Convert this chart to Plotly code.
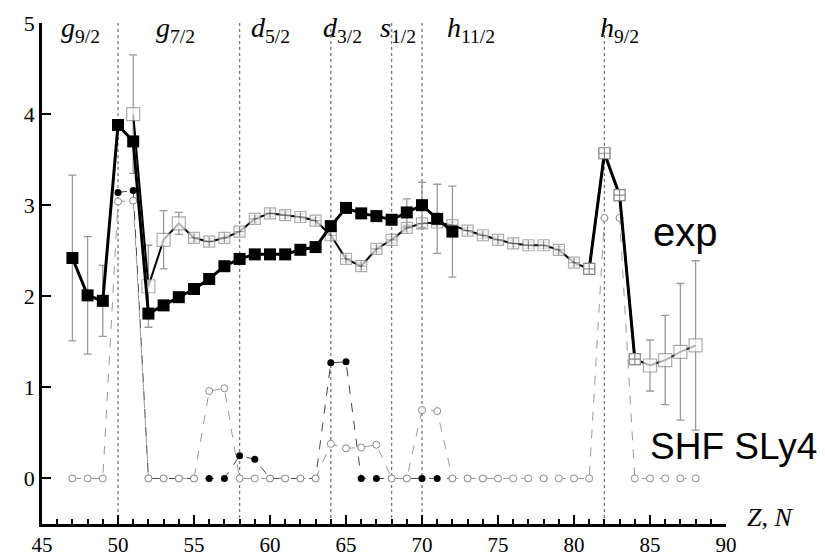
import plotly.graph_objects as go

# ---- experimental data: filled squares (Z = 47..72)
z_exp_a = list(range(47, 73))
exp_a = [2.42, 2.01, 1.95, 3.88, 3.70, 1.81, 1.90, 1.99, 2.08, 2.19, 2.33, 2.41, 2.46,
         2.46, 2.46, 2.51, 2.54, 2.77, 2.97, 2.91, 2.88, 2.84, 2.92, 3.00, 2.85, 2.71]
exp_a_err = [0.91, 0.645, 0.39, None, None, None, None, None, None, None, None, None, None,
             None, None, None, None, None, None, None, None, None, 0.15, 0.25, 0.38, 0.50]

# ---- experimental data: open squares (N = 51..88)
z_exp_b = list(range(51, 89))
exp_b = [4.00, 2.11, 2.62, 2.80, 2.64, 2.60, 2.64, 2.71, 2.85, 2.91, 2.89, 2.87, 2.83,
         2.67, 2.41, 2.33, 2.52, 2.62, 2.75, 2.80, 2.81, 2.78, 2.72, 2.67, 2.62, 2.58,
         2.56, 2.56, 2.51, 2.37, 2.30, 3.57, 3.11, 1.31, 1.24, 1.30, 1.39, 1.46]
exp_b_err = [0.65, 0.45, 0.32, 0.12] + [0.035] * 30 + [0.28, 0.49, 0.75, 0.93]

# ---- SHF SLy4: open circles (47..88) and filled circles (50..74)
z_shf_open = list(range(47, 89))
shf_open = [0, 0, 0, 3.04, 3.05, 0, 0, 0, 0, 0.96, 0.99, 0, 0, 0, 0, 0, 0, 0.38, 0.33,
            0.34, 0.37, 0, 0, 0.75, 0.74, 0, 0, 0, 0, 0, 0, 0, 0, 0, 0, 2.86, 2.86, 0,
            0, 0, 0, 0]
z_shf_fill = list(range(50, 75))
shf_fill = [3.14, 3.16, 0, 0, 0, 0, 0, 0, 0.25, 0.21, 0, 0, 0, 0, 1.27, 1.28, 0, 0, 0,
            0, 0, 0, 0, 0, 0]

# ---- shell closures and orbital labels
shell_lines = [50, 58, 64, 68, 70, 82]
orbital_pos = [47.5, 53.75, 60.0, 64.75, 68.4, 73.2, 83.0]
orbital_labels = ["g", "g", "d", "d", "s", "h", "h"]
orbital_j = ["9/2", "7/2", "5/2", "3/2", "1/2", "11/2", "9/2"]
peak_segment = [81, 82, 83, 84]

SERIF = "Liberation Serif, Times New Roman, serif"
SANS = "Liberation Sans, Arial, sans-serif"
GREY = "#8a8a8a"

fig = go.Figure()

# vertical dotted shell-closure lines
for xv in shell_lines:
    fig.add_shape(type="line", x0=xv, x1=xv, y0=-0.5, y1=5, xref="x", yref="y",
                  line=dict(color="#777777", width=1.3, dash="dot"), layer="below")

# SHF SLy4 curves
fig.add_trace(go.Scatter(
    x=z_shf_fill, y=shf_fill, mode="lines+markers",
    line=dict(color="#444444", width=1, dash="dash"),
    marker=dict(symbol="circle", size=7, color="black"),
    showlegend=False))
fig.add_trace(go.Scatter(
    x=z_shf_open, y=shf_open, mode="lines+markers",
    line=dict(color="#9a9a9a", width=1, dash="dash"),
    marker=dict(symbol="circle", size=7, color="white", line=dict(color="#8a8a8a", width=1)),
    showlegend=False))

# open-square experimental series
sym_b = ["square" if e is not None and e > 0.1 else "square-cross" for e in exp_b_err]
size_b = [13 if e is not None and e > 0.1 else 11 for e in exp_b_err]
fig.add_trace(go.Scatter(
    x=z_exp_b, y=exp_b, mode="lines+markers",
    line=dict(color="black", width=2),
    marker=dict(symbol=sym_b, size=size_b, color="white", line=dict(color=GREY, width=1.2)),
    error_y=dict(type="data", array=exp_b_err, color="#999999", thickness=1.3, width=4),
    showlegend=False))

# thick connecting line across the N = 82 peak
seg_y = [exp_b[z_exp_b.index(z)] for z in peak_segment]
fig.add_trace(go.Scatter(
    x=peak_segment, y=seg_y, mode="lines",
    line=dict(color="black", width=3), showlegend=False))
fig.add_trace(go.Scatter(
    x=peak_segment, y=seg_y, mode="markers",
    marker=dict(symbol="square-cross", size=11, color="white", line=dict(color=GREY, width=1.2)),
    showlegend=False))

# filled-square experimental series
fig.add_trace(go.Scatter(
    x=z_exp_a, y=exp_a, mode="lines+markers",
    line=dict(color="black", width=3),
    marker=dict(symbol="square", size=12, color="black"),
    error_y=dict(type="data", array=exp_a_err, color="#999999", thickness=1.3, width=4),
    showlegend=False))

# orbital labels along the top
for xp, lab, j in zip(orbital_pos, orbital_labels, orbital_j):
    fig.add_annotation(x=xp, y=4.93, xref="x", yref="y",
                       text=f"<i>{lab}</i><sub>{j}</sub>", showarrow=False,
                       font=dict(family=SERIF, size=28, color="black"),
                       xanchor="center", yanchor="middle")

# axis title at the right end of the x axis
fig.add_annotation(x=1.028, y=0.012, xref="paper", yref="paper", text="<i>Z, N</i>",
                   showarrow=False, xanchor="left", yanchor="middle",
                   font=dict(family=SERIF, size=26, color="black"))

# series names
fig.add_annotation(x=0.89, y=0.582, xref="paper", yref="paper", text="exp",
                   showarrow=False, xanchor="left", yanchor="middle",
                   font=dict(family=SANS, size=40, color="black"))
fig.add_annotation(x=0.886, y=0.155, xref="paper", yref="paper", text="SHF SLy4",
                   showarrow=False, xanchor="left", yanchor="middle",
                   font=dict(family=SANS, size=37, color="black"))

fig.update_layout(
    width=825, height=559, autosize=False,
    margin=dict(l=42, r=99, t=23, b=35),
    paper_bgcolor="white", plot_bgcolor="white",
    font=dict(family=SERIF, color="black"),
    xaxis=dict(range=[45, 90], tickmode="linear", tick0=45, dtick=5, automargin=False,
               showgrid=False, zeroline=False, showline=True, linecolor="black", linewidth=2.5,
               ticks="inside", ticklen=9, tickwidth=2, tickcolor="black",
               minor=dict(dtick=1, ticks="inside", ticklen=5, tickwidth=1.5, tickcolor="black"),
               tickfont=dict(family=SERIF, size=21, color="black")),
    yaxis=dict(range=[-0.5, 5], tickmode="array", tickvals=[0, 1, 2, 3, 4, 5], automargin=False,
               showgrid=False, zeroline=False, showline=True, linecolor="black", linewidth=2.5,
               ticks="inside", ticklen=9, tickwidth=2, tickcolor="black",
               tickfont=dict(family=SERIF, size=22, color="black")),
)

fig.write_html("out.html")
